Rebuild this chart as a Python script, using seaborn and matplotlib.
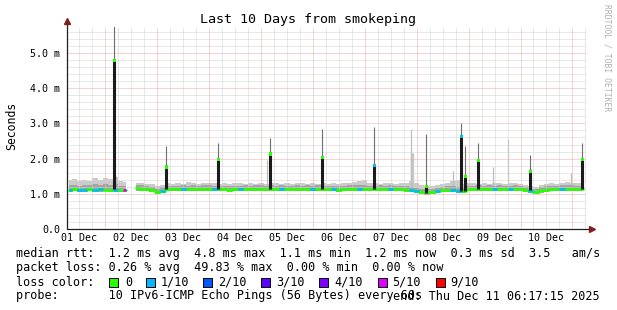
import numpy as np
import pandas as pd
import matplotlib
matplotlib.use("Agg")
import matplotlib.pyplot as plt
from matplotlib.patches import Rectangle
import seaborn as sns

# ---------------- data ----------------
day_labels = ["01 Dec", "02 Dec", "03 Dec", "04 Dec", "05 Dec",
              "06 Dec", "07 Dec", "08 Dec", "09 Dec", "10 Dec"]
y_tick_labels = ["0.0", "1.0 m", "2.0 m", "3.0 m", "4.0 m", "5.0 m"]

# 0.1-day bins starting at day 0.3 (days since 01 Dec 00:00)
bin_start = 0.3
bin_step = 0.1
nan = np.nan
median_ms = [1.12, 1.13, 1.11, 1.12, 1.13, 1.12, 1.13, 1.12, 1.11, 1.12, 1.11,
             1.10, nan,
             1.16, 1.15, 1.13, 1.10, 1.05, 1.09,
             1.14, 1.13, 1.14, 1.15, 1.14, 1.15, 1.14, 1.15,
             1.15, 1.14, 1.13, 1.14, 1.12, 1.13, 1.14, 1.15, 1.14, 1.15,
             1.15, 1.14, 1.15, 1.14, 1.15, 1.14, 1.13, 1.15, 1.14, 1.15,
             1.14, 1.15, 1.14, 1.14, 1.13, 1.12, 1.14, 1.15, 1.13, 1.14,
             1.15, 1.14, 1.13, 1.15, 1.14, 1.15, 1.14, 1.13, 1.12, 1.10,
             1.08, 1.06, 1.04, 1.05, 1.08, 1.10, 1.12, 1.11, 1.08, 1.07,
             1.13, 1.14, 1.15, 1.14, 1.15, 1.14, 1.15, 1.13, 1.14, 1.15,
             1.14, 1.12, 1.08, 1.06, 1.10, 1.12, 1.13, 1.14, 1.15, 1.15,
             1.15, 1.14, 1.14]
smoke_lo = [1.06, 1.07, 1.05, 1.06, 1.07, 1.06, 1.06, 1.07, 1.05, 1.06, 1.05,
            1.05, nan,
            1.09, 1.08, 1.07, 1.05, 1.00, 1.03,
            1.08, 1.07, 1.08, 1.09, 1.08, 1.09, 1.08, 1.09,
            1.09, 1.08, 1.07, 1.08, 1.06, 1.07, 1.08, 1.09, 1.08, 1.09,
            1.09, 1.08, 1.09, 1.08, 1.09, 1.08, 1.07, 1.09, 1.08, 1.09,
            1.08, 1.09, 1.08, 1.08, 1.07, 1.06, 1.08, 1.09, 1.07, 1.08,
            1.09, 1.08, 1.07, 1.09, 1.08, 1.09, 1.08, 1.07, 1.06, 1.04,
            1.02, 1.00, 0.98, 0.99, 1.02, 1.04, 1.06, 1.05, 1.02, 1.01,
            1.07, 1.08, 1.09, 1.08, 1.09, 1.08, 1.09, 1.07, 1.08, 1.09,
            1.08, 1.06, 1.02, 1.00, 1.03, 1.06, 1.07, 1.08, 1.09, 1.09,
            1.09, 1.08, 1.08]
smoke_mid = [1.24, 1.26, 1.23, 1.25, 1.24, 1.27, 1.24, 1.28, 1.25, 1.27, 1.23,
             1.22, nan,
             1.25, 1.24, 1.22, 1.19, 1.14, 1.18,
             1.23, 1.22, 1.23, 1.24, 1.23, 1.24, 1.23, 1.24,
             1.24, 1.23, 1.22, 1.23, 1.21, 1.22, 1.23, 1.24, 1.23, 1.24,
             1.24, 1.23, 1.24, 1.23, 1.24, 1.23, 1.22, 1.24, 1.23, 1.24,
             1.23, 1.24, 1.23, 1.23, 1.22, 1.21, 1.23, 1.24, 1.24, 1.26,
             1.26, 1.23, 1.22, 1.24, 1.23, 1.24, 1.23, 1.22, 1.21, 1.19,
             1.17, 1.15, 1.13, 1.14, 1.17, 1.19, 1.21, 1.22, 1.19, 1.16,
             1.22, 1.23, 1.24, 1.23, 1.24, 1.23, 1.24, 1.22, 1.23, 1.24,
             1.22, 1.18, 1.15, 1.14, 1.18, 1.21, 1.22, 1.23, 1.24, 1.24,
             1.24, 1.23, 1.23]
smoke_hi = [1.38, 1.42, 1.36, 1.40, 1.37, 1.44, 1.39, 1.45, 1.41, 1.47, 1.36,
            1.33, nan,
            1.32, 1.30, 1.29, 1.27, 1.22, 1.26,
            1.30, 1.28, 1.31, 1.29, 1.33, 1.30, 1.29, 1.31,
            1.30, 1.32, 1.28, 1.30, 1.29, 1.31, 1.30, 1.28, 1.30, 1.29,
            1.31, 1.29, 1.30, 1.32, 1.28, 1.30, 1.29, 1.31, 1.30, 1.28,
            1.30, 1.29, 1.31, 1.28, 1.30, 1.29, 1.31, 1.30, 1.33, 1.36,
            1.38, 1.32, 1.30, 1.29, 1.31, 1.30, 1.28, 1.30, 1.32, 1.36,
            1.30, 1.24, 1.22, 1.23, 1.26, 1.29, 1.31, 1.35, 1.40, 1.28,
            1.30, 1.31, 1.29, 1.30, 1.28, 1.30, 1.31, 1.29, 1.30, 1.32,
            1.28, 1.26, 1.22, 1.20, 1.25, 1.28, 1.30, 1.29, 1.31, 1.33,
            1.31, 1.30, 1.32]
loss_tenths = [1, 0, 1, 1, 0, 1, 1, 0, 0, 1, 0,
               5, 0,
               0, 0, 0, 0, 0, 1,
               0, 0, 0, 1, 0, 0, 0, 0,
               0, 1, 0, 0, 0, 0, 1, 0, 0, 0,
               0, 0, 0, 0, 1, 0, 0, 0, 0, 0,
               1, 0, 0, 0, 1, 0, 0, 0, 0, 1,
               0, 0, 0, 0, 0, 1, 0, 0, 0, 1,
               1, 0, 0, 0, 1, 0, 0, 1, 1, 0,
               0, 0, 0, 0, 0, 1, 0, 0, 1, 0,
               0, 0, 1, 0, 0, 0, 0, 0, 1, 0,
               0, 0, 0]

# median spikes (day, low end, median, max)
spike_day = [1.175, 2.177, 3.179, 4.181, 5.183, 6.185, 7.187, 7.861, 7.938, 8.189, 9.191, 10.193]
spike_low = [1.13, 1.14, 1.14, 1.14, 1.14, 1.13, 1.03, 1.08, 1.08, 1.13, 1.10, 1.13]
spike_median = [4.78, 1.76, 1.97, 2.13, 2.02, 1.81, 1.20, 2.62, 1.49, 1.94, 1.64, 1.97]
spike_max = [5.76, 2.35, 2.45, 2.59, 2.83, 2.89, 2.71, 3.02, 2.37, 2.45, 2.09, 2.45]
spike_loss = [0, 0, 0, 0, 0, 1, 0, 1, 0, 0, 0, 0]

# smoke-only spikes (day, max)
ghost_day = [1.21, 4.123, 6.898, 7.707, 8.478, 8.767, 9.981]
ghost_max = [1.50, 1.97, 2.83, 1.64, 1.75, 2.57, 1.60]
ghost_block_day = [6.90]
ghost_block_max = [2.17]

loss_palette = {0: "#26ff00", 1: "#00b8ff", 2: "#0059ff", 3: "#5e00ff",
                4: "#7e00ff", 5: "#dd00ff", 9: "#ff0000"}
legend_steps = [0, 1, 2, 3, 4, 5, 9]
legend_names = ["0", "1/10", "2/10", "3/10", "4/10", "5/10", "9/10"]

# ---------------- figure ----------------
sns.set_theme(style="white")
plt.rcParams["font.family"] = ["DejaVu Sans Mono"]
plt.rcParams["text.color"] = "black"

W, H = 617, 310
fig = plt.figure(figsize=(W / 100, H / 100), dpi=100)
fig.patch.set_facecolor("white")
ax = fig.add_axes([67 / W, 1 - 229 / H, 519 / W, 202 / H])
ax.set_facecolor("white")
x0, x1 = 0.262, 10.262
ax.set_xlim(x0, x1)
ymax = 202 / 35.2
ax.set_ylim(0, ymax)
for s in ax.spines.values():
    s.set_visible(False)

days = bin_start + bin_step * np.arange(len(median_ms))
df = pd.DataFrame({"day": days, "med": median_ms, "lo": smoke_lo,
                   "mid": smoke_mid, "hi": smoke_hi, "loss": loss_tenths})
df["seg"] = (df["med"].isna()).cumsum()

# smoke
ax.fill_between(df["day"], df["lo"], df["hi"], step="mid", color="#cbcbcb", lw=0, zorder=1)
ax.fill_between(df["day"], df["lo"], df["mid"], step="mid", color="#a4a4a4", lw=0, zorder=1.2)
ax.vlines(ghost_block_day, 1.2, ghost_block_max, color="#c6c6c6", lw=2.4, zorder=1.1)
ax.vlines(ghost_day, 1.2, ghost_max, color="#bcbcbc", lw=0.9, zorder=1.1)

# grid (dotted lines)
grid_c = "#d2d2d2"
mgrid_c = "#f4a8a8"
dash = (0, (1, 1))
gkw = dict(lw=0.72, ls=dash)
for xv in np.arange(0.25, 10.3, 0.25):
    if abs(xv - round(xv)) > 1e-6 and x0 < xv < x1:
        ax.axvline(xv, color=grid_c, zorder=2, **gkw)
for d in range(1, 11):
    ax.axvline(d, color=mgrid_c, zorder=2.1, **gkw)
for yv in np.arange(0.2, ymax, 0.2):
    if abs(yv - round(yv)) > 1e-6:
        ax.axhline(yv, color=grid_c, zorder=2, **gkw)
for yv in range(1, 6):
    ax.axhline(yv, color=mgrid_c, zorder=2.1, **gkw)

# median line (green), coloured by loss
good = df.dropna(subset=["med"])
sns.lineplot(data=good, x="day", y="med", units="seg", estimator=None,
             color=loss_palette[0], lw=1.9, drawstyle="steps-mid", ax=ax,
             legend=False, zorder=3)
n = len(df)
for i, r in df.iterrows():
    if np.isnan(r["med"]) or r["loss"] == 0:
        continue
    a = r["day"] - bin_step / 2
    b = r["day"] + bin_step / 2
    if i + 1 >= n or np.isnan(df["med"].iloc[i + 1]):
        b = r["day"]
    if i == 0 or np.isnan(df["med"].iloc[i - 1]):
        a = r["day"]
    ax.hlines(r["med"], a, b, color=loss_palette[int(r["loss"])], lw=1.9, zorder=3.1)

# spikes
ax.vlines(spike_day, spike_median, spike_max, color="#6e6e6e", lw=0.8, zorder=3.5)
ax.vlines(spike_day, spike_low, spike_median, color="#1b1b1b", lw=2.2, zorder=3.6)
sp = pd.DataFrame({"day": spike_day, "med": spike_median,
                   "c": [loss_palette[l] for l in spike_loss]})
sns.scatterplot(data=sp, x="day", y="med", marker="s", s=5, c=sp["c"],
                edgecolor="none", ax=ax, zorder=4, legend=False)

# axes lines and arrows
axis_c = "#1f1f1f"
arrow_c = "#7f1f1f"
ax.plot([0, 0], [0, 1 + 4 / 202], transform=ax.transAxes, color=axis_c, lw=0.9,
        clip_on=False, zorder=5)
ax.plot([0, 1 + 3 / 519], [0, 0], transform=ax.transAxes, color=axis_c, lw=0.9,
        clip_on=False, zorder=5)
ax.plot([0], [1 + 6 / 202], transform=ax.transAxes, marker="^", ms=4.2, color=arrow_c,
        clip_on=False, zorder=6)
ax.plot([1 + 6 / 519], [0], transform=ax.transAxes, marker=">", ms=4.2, color=arrow_c,
        clip_on=False, zorder=6)

# ticks
ax.set_xticks([d + 0.5 for d in range(10)])
ax.set_xticklabels(day_labels)
ax.set_yticks(range(6))
ax.set_yticklabels(y_tick_labels)
ax.tick_params(axis="both", length=0, labelsize=7.2, colors="black")
ax.tick_params(axis="x", pad=3.2)
ax.tick_params(axis="y", pad=5)
ax.set_xlabel("")
ax.set_ylabel("")

# texts
fig.text(0.5, 1 - 20 / H, "Last 10 Days from smokeping", ha="center", va="center", fontsize=9.6)
fig.text(12 / W, 1 - 126 / H, "Seconds", rotation=90, ha="center", va="center", fontsize=8.3)
fig.text(607 / W, 1 - 4 / H, "RRDTOOL / TOBI OETIKER", rotation=270, ha="center", va="top",
         fontsize=5.8, color="#b0b0b0")

fs = 8.5
fig.text(16 / W, 1 - 254 / H,
         "median rtt:  1.2 ms avg  4.8 ms max  1.1 ms min  1.2 ms now  0.3 ms sd  3.5   am/s",
         ha="left", va="center", fontsize=fs)
fig.text(16 / W, 1 - 268 / H,
         "packet loss: 0.26 % avg  49.83 % max  0.00 % min  0.00 % now",
         ha="left", va="center", fontsize=fs)
fig.text(16 / W, 1 - 282 / H, "loss color:", ha="left", va="center", fontsize=fs)
box_x = [109, 146, 203, 261, 319, 378, 436]
txt_x = [125, 161, 218, 276, 334, 392, 450]
for step, name, bx, tx in zip(legend_steps, legend_names, box_x, txt_x):
    fig.add_artist(Rectangle((bx / W, 1 - 287 / H), 9 / W, 9 / H, transform=fig.transFigure,
                             facecolor=loss_palette[step], edgecolor="black", lw=0.7))
    fig.text(tx / W, 1 - 282 / H, name, ha="left", va="center", fontsize=fs)
fig.text(16 / W, 1 - 296 / H,
         "probe:       10 IPv6-ICMP Echo Pings (56 Bytes) every 60s",
         ha="left", va="center", fontsize=fs)
fig.text(600 / W, 1 - 296 / H, "end: Thu Dec 11 06:17:15 2025",
         ha="right", va="center", fontsize=fs)

fig.savefig("out.png", dpi=100, facecolor="white")
